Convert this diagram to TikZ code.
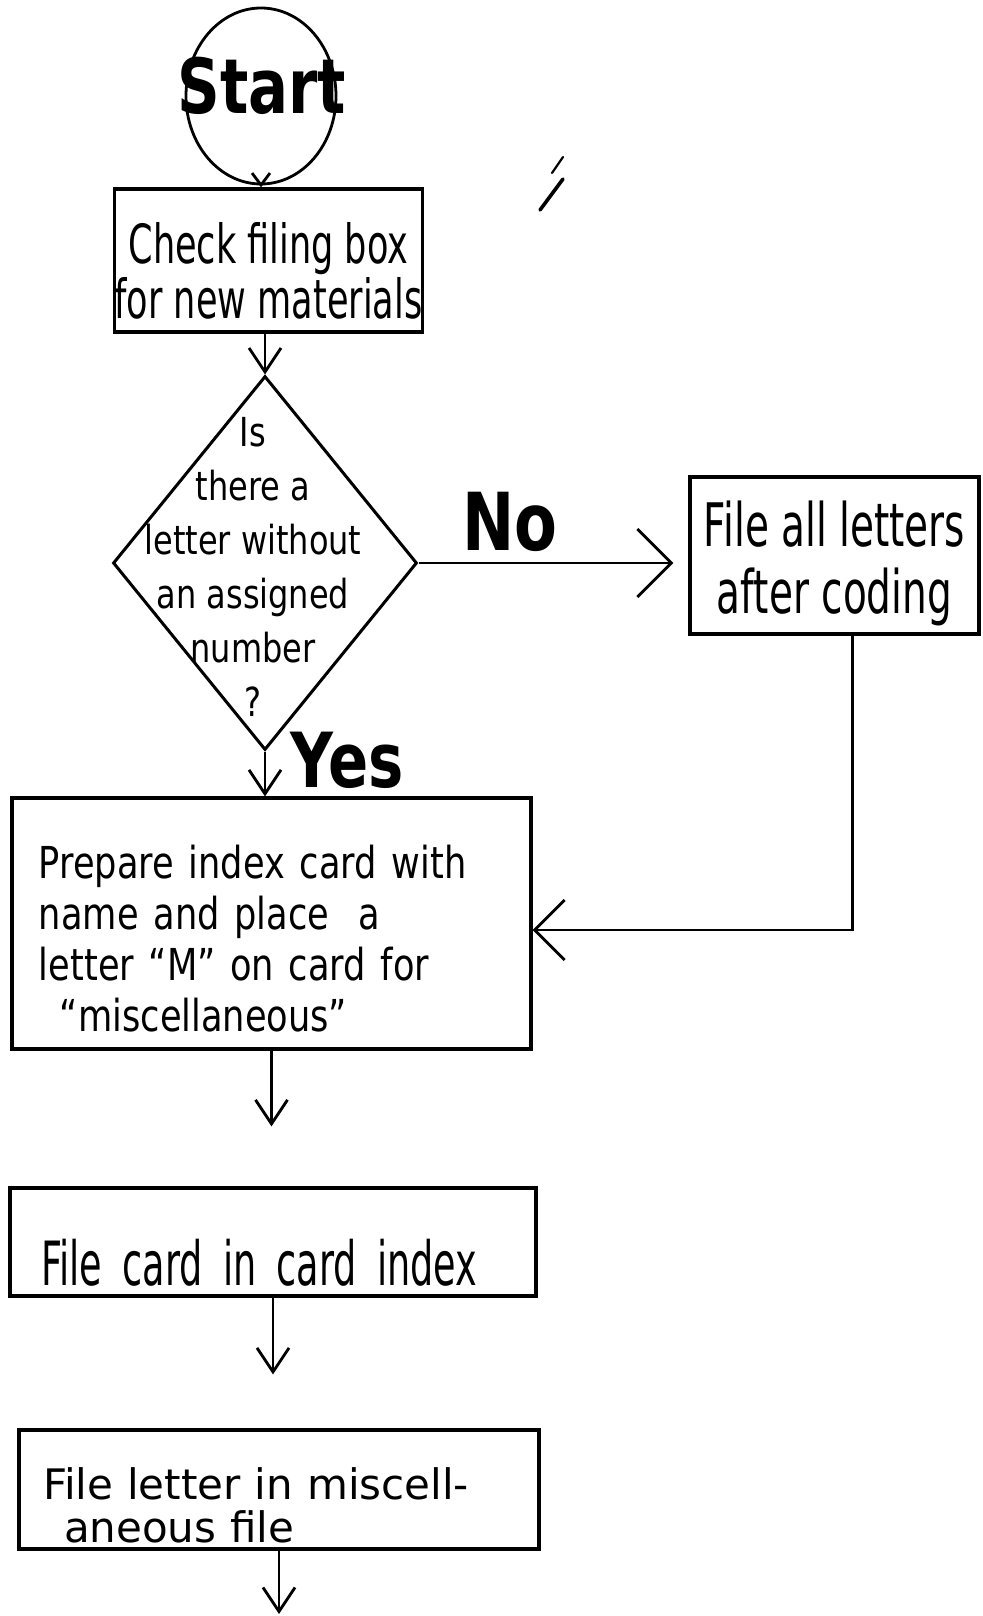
\documentclass[tikz,border=0pt]{standalone}
\usepackage{fontspec}
\setmainfont{DejaVu Sans}
\newfontfamily\handA[FakeStretch=0.65]{DejaVu Sans}
\newfontfamily\handB[FakeStretch=0.8]{DejaVu Sans}
\newfontfamily\handN[FakeStretch=0.6]{DejaVu Sans}
\newfontfamily\labfont[FakeStretch=0.78]{DejaVu Sans}
\usetikzlibrary{shapes.geometric,arrows.meta}
\newcommand{\lift}[1]{\rule{0pt}{#1}}
\tikzset{
  box/.style={draw, line width=1.6pt, inner sep=0pt},
  lab/.style={inner sep=0pt, font=\labfont\bfseries},
  arr/.style={line width=1.4pt, -{Straight Barb[length=12pt,width=16pt,line width=1.4pt]}},
  arrsmall/.style={line width=1.4pt, -{Straight Barb[length=6pt,width=9pt,line width=1.4pt]}},
  arrbig/.style={line width=1.4pt, -{Straight Barb[length=17pt,width=34pt,line width=1.4pt]}},
  arrmid/.style={line width=1.4pt, -{Straight Barb[length=15pt,width=30pt,line width=1.4pt]}},
}
\begin{document}
\begin{tikzpicture}[x=0.5pt,y=-0.5pt]
\fill[white] (0,0) rectangle (982,1616);
\useasboundingbox (0,0) rectangle (982,1616);

% start terminal
\node[ellipse, draw, line width=1.4pt, inner sep=0pt, minimum width=75pt, minimum height=88pt] (start) at (261,96) {};
\node[lab, font=\labfont\bfseries\fontsize{38pt}{40pt}\selectfont] (startlbl) at (262,86) {Start};

% boxes
\node[box, minimum width=153.5pt, minimum height=71.5pt, align=center,
      font=\handA\fontsize{27pt}{27.5pt}\selectfont] (check) at (268.5,260.5)
      {\lift{31pt}Check filing box\\for new materials};

\node[diamond, draw, line width=1.5pt, inner sep=0pt, minimum width=152pt, minimum height=187pt] (dec) at (265,563) {};
\node[inner sep=0pt, align=center, font=\handB\fontsize{20pt}{27pt}\selectfont] (dectext) at (253,567)
      {Is\\there a\\letter without\\an assigned\\number\\?};

\node[box, minimum width=144.5pt, minimum height=78.5pt, align=center,
      font=\handA\fontsize{30pt}{33.5pt}\selectfont] (box2) at (834.5,555.5)
      {\lift{31pt}File all letters\\after coding};

\node[box, minimum width=259.5pt, minimum height=125.5pt, text width=232.5pt, align=left,
      font=\handB\fontsize{22pt}{25.5pt}\selectfont] (box3) at (271.5,923.5)
      {\lift{32pt}Prepare index card with\\name and place\ \ a\\letter “M” on card for\\\hspace*{10.5pt}“miscellaneous”};

\node[box, minimum width=263pt, minimum height=54pt, text width=232pt, align=left,
      font=\handN\fontsize{30.5pt}{32pt}\selectfont] (box4) at (273,1242)
      {\lift{44pt}File card in card index};

\node[box, minimum width=260pt, minimum height=59.5pt, text width=236pt, align=left,
      font=\rmfamily\fontsize{21pt}{21.5pt}\selectfont] (box5) at (279,1489.5)
      {\lift{31.5pt}File letter in miscell-\\\hspace*{10.5pt}aneous file};

% labels
\node[lab, font=\labfont\bfseries\fontsize{40pt}{42pt}\selectfont] (nolbl) at (510,522) {No};
\node[lab, font=\labfont\bfseries\fontsize{38pt}{40pt}\selectfont] (yeslbl) at (347,760) {Yes};

% connectors
\draw[arrsmall] (start.south) -- (start.south |- check.north);
\draw[arr] (dec.north |- check.south) -- (dec.north);
\draw[arrbig, shorten >=7.5pt] (dec.east) -- (dec.east -| box2.west);
\draw[arrmid] ([xshift=9pt]box2.south) |- ([yshift=-3.25pt]box3.east);
\draw[arr] (dec.south) -- (dec.south |- box3.north);
\draw[arr, shorten >=30pt] (box3.south) -- (box3.south |- box4.north);
\draw[arr, shorten >=27pt] (box4.south) -- (box4.south |- box5.north);
\coordinate (end) at (279,1614);
\draw[arr] (box5.south) -- (end);

% stray marks
\draw[line width=1.1pt, line cap=round] (552,173) -- (563,157);
\draw[line width=1.8pt, line cap=round] (540,210) -- (563,179);
\end{tikzpicture}
\end{document}
